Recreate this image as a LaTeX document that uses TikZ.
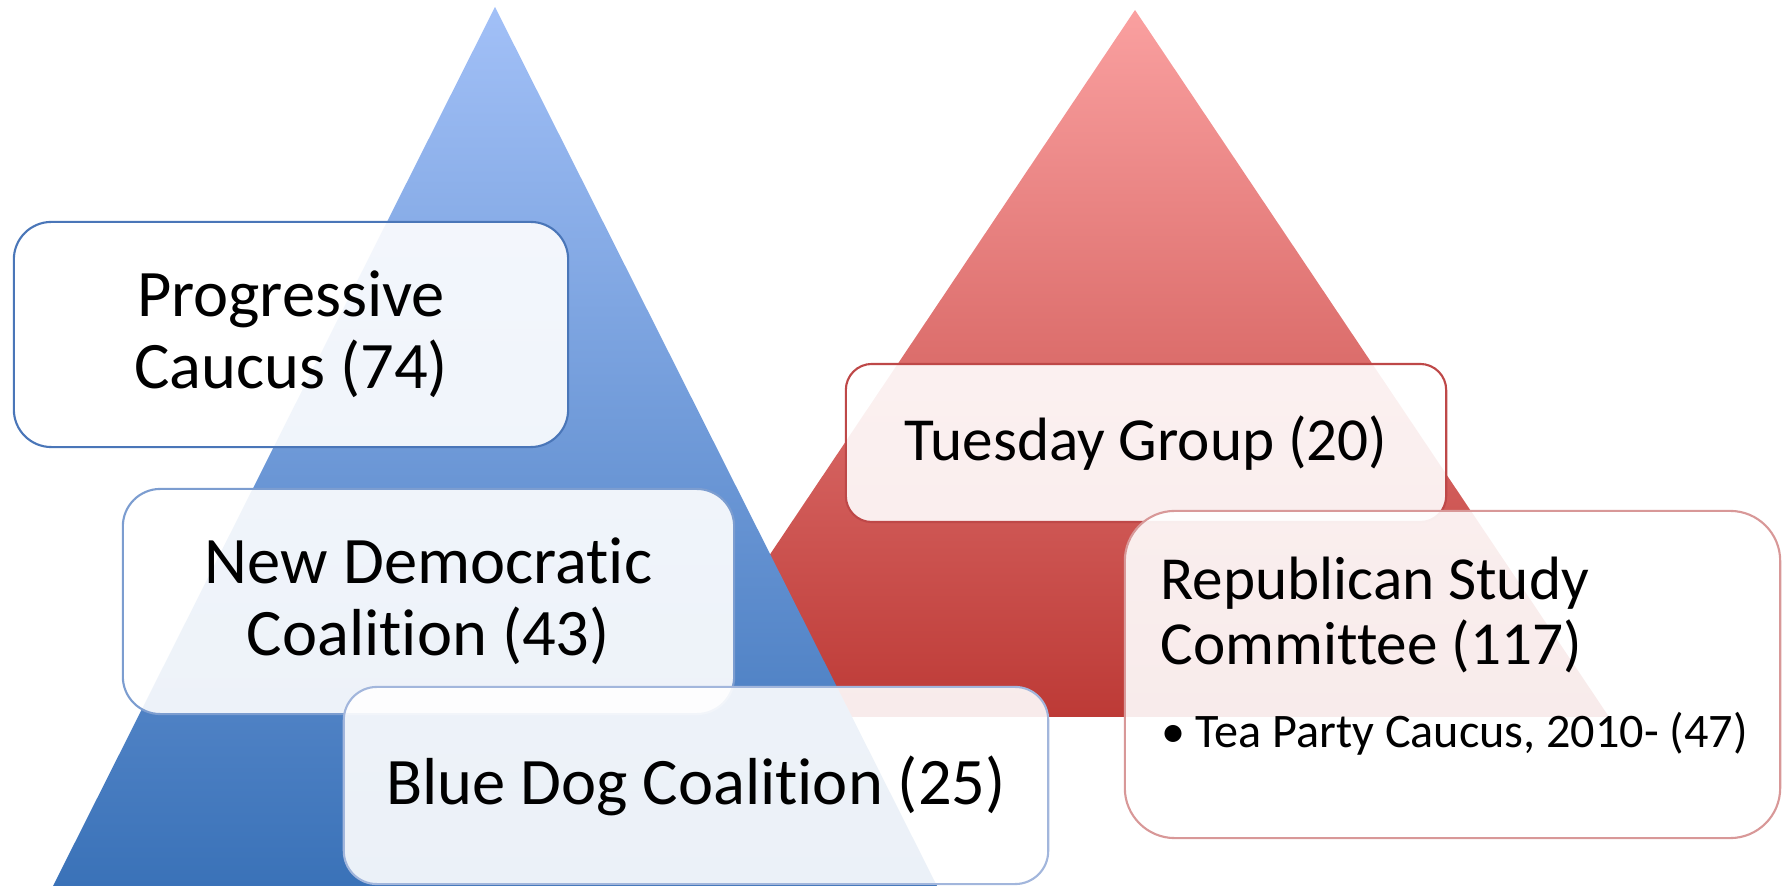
\documentclass[tikz,border=0pt]{standalone}
\usepackage{tikz}
\usepackage{xcolor}
\usepackage{fontspec}
\setmainfont{Carlito}[Ligatures={CommonOff}]

\definecolor{bluetop}{HTML}{A2C0F7}
\definecolor{bluebot}{HTML}{3A72B8}
\definecolor{redtop}{HTML}{FAA0A0}
\definecolor{redbot}{HTML}{BD3A36}
\definecolor{progline}{HTML}{4A76B8}
\definecolor{newdemline}{HTML}{7C9DD0}
\definecolor{bluedogline}{HTML}{A2B6DC}
\definecolor{tuesline}{HTML}{BE4848}
\definecolor{rscline}{HTML}{D89898}

\begin{document}
\begin{tikzpicture}[x=0.01cm,y=-0.01cm,
  box/.style={draw,fill=white,fill opacity=0.9,text opacity=1,line width=0.6pt,inner sep=0pt,align=center},
  bluetext/.style={font=\fontsize{18.9}{20.5}\selectfont},
  redtext/.style={font=\fontsize{17.4}{18.5}\selectfont},
  bullettext/.style={font=\fontsize{13.7}{16}\selectfont}]

\useasboundingbox (0,0) rectangle (1782,886);

\shade[top color=redtop,bottom color=redbot] (1135,10) -- (1609,717) -- (661,717) -- cycle;
\shade[top color=bluetop,bottom color=bluebot] (495,7) -- (937,886) -- (53,886) -- cycle;

\node[box,bluetext,draw=progline,minimum width=5.54cm,minimum height=2.25cm,rounded corners=0.375cm] (prog) at (291,334.5) {Progressive\\Caucus (74)};
\node[box,bluetext,draw=newdemline,minimum width=6.11cm,minimum height=2.25cm,rounded corners=0.375cm] (newdem) at (428.5,601.5) {New Democratic\\Coalition (43)};
\node[box,bluetext,draw=bluedogline,minimum width=7.04cm,minimum height=1.97cm,rounded corners=0.33cm] (bluedog) at (696,785.5) {Blue Dog Coalition (25)};

\node[box,redtext,draw=tuesline,minimum width=6.00cm,minimum height=1.58cm,rounded corners=0.26cm] (tuesday) at (1146,443) {Tuesday Group (20)};
\node[box,draw=rscline,minimum width=6.55cm,minimum height=3.27cm,rounded corners=0.5cm] (rsc) at (1452.5,674.5) {};
\node[redtext,anchor=base west,inner sep=0pt] (rscone) at (1160,600) {Republican Study};
\node[redtext,anchor=base west,inner sep=0pt] (rsctwo) at (1160,665) {Committee (117)};
\node[bullettext,anchor=base west,inner sep=0pt] (teaparty) at (1161,748) {\textbullet\hspace{0.2em}Tea Party Caucus, 2010- (47)};
\end{tikzpicture}
\end{document}
